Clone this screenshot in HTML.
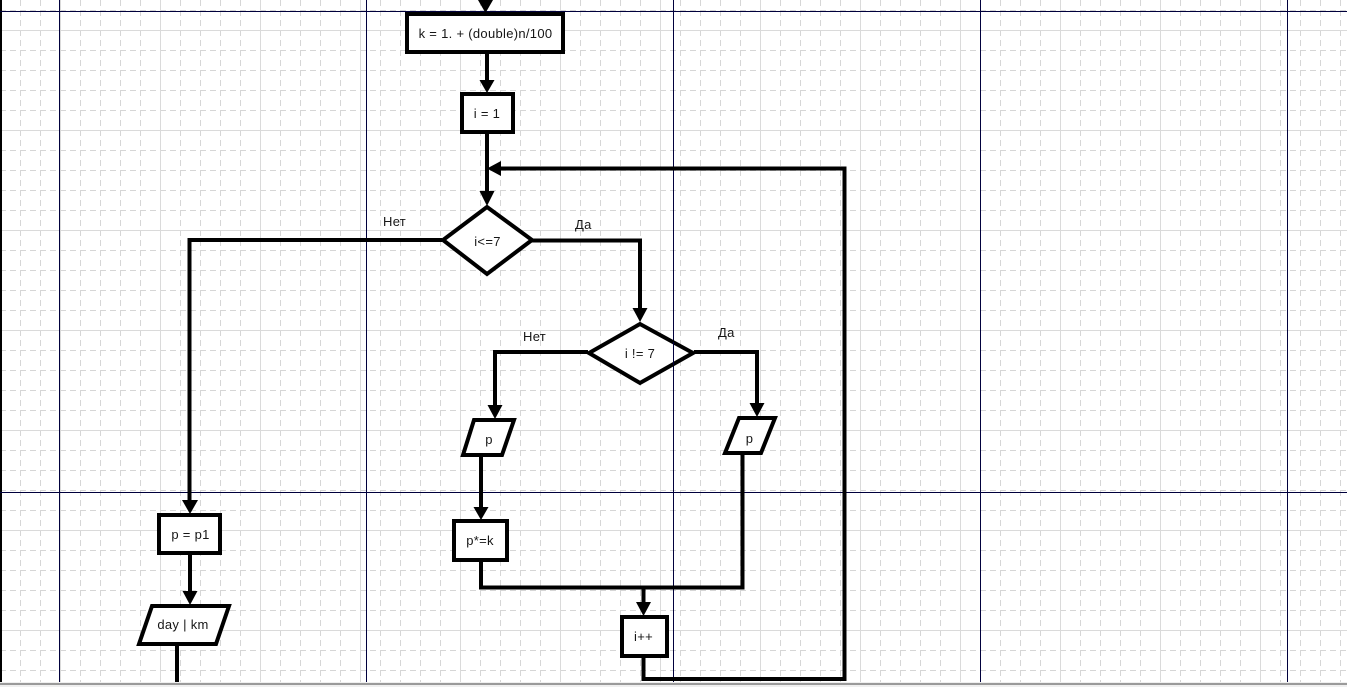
<!DOCTYPE html>
<html><head><meta charset="utf-8"><style>
html,body{margin:0;padding:0;background:#fff;}
svg{display:block;}
text{font-family:"Liberation Sans","DejaVu Sans",sans-serif;font-size:13px;letter-spacing:0.3px;fill:#161616;}
</style></head><body>
<svg width="1347" height="687" viewBox="0 0 1347 687" xmlns="http://www.w3.org/2000/svg">
<defs>
<pattern id="g" patternUnits="userSpaceOnUse" x="0" y="0" width="100" height="100">
<g stroke="#d6d6d6" stroke-width="1" stroke-dasharray="6 4" fill="none">
<line x1="0.5" y1="0" x2="0.5" y2="100"/>
<line x1="20.5" y1="0" x2="20.5" y2="100"/>
<line x1="40.5" y1="0" x2="40.5" y2="100"/>
<line x1="80.5" y1="0" x2="80.5" y2="100"/>
<line x1="0" y1="10.5" x2="100" y2="10.5"/>
<line x1="0" y1="50.5" x2="100" y2="50.5"/>
<line x1="0" y1="70.5" x2="100" y2="70.5"/>
<line x1="0" y1="90.5" x2="100" y2="90.5"/>
</g>
<g stroke="#dadada" stroke-width="1">
<line x1="60.5" y1="0" x2="60.5" y2="100"/>
<line x1="0" y1="30.5" x2="100" y2="30.5"/>
</g>
</pattern>
</defs>
<rect x="0" y="0" width="1347" height="682" fill="#fff"/>
<rect x="0" y="0" width="1347" height="682" fill="url(#g)"/>
<rect x="0" y="682" width="1347" height="5" fill="#efefef"/>
<rect x="0" y="683" width="1347" height="2" fill="#9a9a9a"/>
<rect x="0" y="0" width="2" height="682" fill="#000"/>
<!-- page breaks -->
<g stroke="#00003c" stroke-width="1">
<line x1="59.5" y1="0" x2="59.5" y2="682"/>
<line x1="366.5" y1="0" x2="366.5" y2="682"/>
<line x1="673.5" y1="0" x2="673.5" y2="682"/>
<line x1="980.5" y1="0" x2="980.5" y2="682"/>
<line x1="1287.5" y1="0" x2="1287.5" y2="682"/>
<line x1="0" y1="11.5" x2="1347" y2="11.5"/>
<line x1="0" y1="492.5" x2="1347" y2="492.5"/>
</g>
<!-- connectors -->
<g stroke="#000" stroke-width="4" fill="none" stroke-linejoin="miter">
<line x1="487" y1="53" x2="487" y2="82"/>
<line x1="487" y1="134" x2="487" y2="193"/>
<polyline points="643.5,658 643.5,679 844.5,679 844.5,168.5 500,168.5"/>
<polyline points="442,240 189.5,240 189.5,502"/>
<polyline points="532,240.5 640,240.5 640,310"/>
<polyline points="588,352 495,352 495,407"/>
<polyline points="694,352 757,352 757,405"/>
<line x1="481" y1="456" x2="481" y2="509"/>
<polyline points="481,560 481,587.5 742.5,587.5 742.5,454"/>
<line x1="643.5" y1="587" x2="643.5" y2="604"/>
<line x1="190" y1="554" x2="190" y2="592"/>
<line x1="177" y1="645" x2="177" y2="682"/>
</g>
<!-- arrowheads -->
<g fill="#000">
<polygon points="478,0 493,0 485.5,13"/>
<polygon points="479.5,80 494.5,80 487,93"/>
<polygon points="479.5,191 494.5,191 487,206"/>
<polygon points="501,161 501,176 487,168.5"/>
<polygon points="182,500 198,500 190,514"/>
<polygon points="632.5,308 647.5,308 640,322"/>
<polygon points="487.5,405 502.5,405 495,419"/>
<polygon points="749.5,403 764.5,403 757,417"/>
<polygon points="473.5,507 488.5,507 481,520"/>
<polygon points="636,602 651,602 643.5,616"/>
<polygon points="182.5,591 197.5,591 190,605"/>
</g>
<!-- shapes -->
<g stroke="#000" stroke-width="4" fill="#fff" stroke-linejoin="miter">
<rect x="407" y="14" width="156" height="38"/>
<rect x="462" y="94" width="51" height="38"/>
<polygon points="487,207 443,240 487,274 532,240"/>
<polygon points="640,324 589,353 640,383 693,353"/>
<polygon points="474,420 514,420 502,455 463,455"/>
<polygon points="739,418 775,418 761,453 725,453"/>
<rect x="454" y="521" width="53" height="39"/>
<rect x="622" y="617" width="45" height="39"/>
<rect x="159" y="515" width="61" height="38"/>
<polygon points="152,606 229,606 216,644 139,644"/>
</g>
<line x1="673.5" y1="342" x2="673.5" y2="365" stroke="#00003c" stroke-width="1"/>
<!-- texts -->
<g text-anchor="middle">
<text x="485.5" y="38">k = 1. + (double)n/100</text>
<text x="487" y="118">i = 1</text>
<text x="487.5" y="246">i&lt;=7</text>
<text x="640" y="358">i != 7</text>
<text x="489" y="444">p</text>
<text x="749.5" y="443">p</text>
<text x="480" y="545">p*=k</text>
<text x="643.5" y="641">i++</text>
<text x="190.5" y="539">p = p1</text>
<text x="183" y="629">day | km</text>
</g>
<text x="383" y="226">Нет</text>
<text x="575" y="229">Да</text>
<text x="523" y="341">Нет</text>
<text x="718" y="337">Да</text>
</svg>
</body></html>
